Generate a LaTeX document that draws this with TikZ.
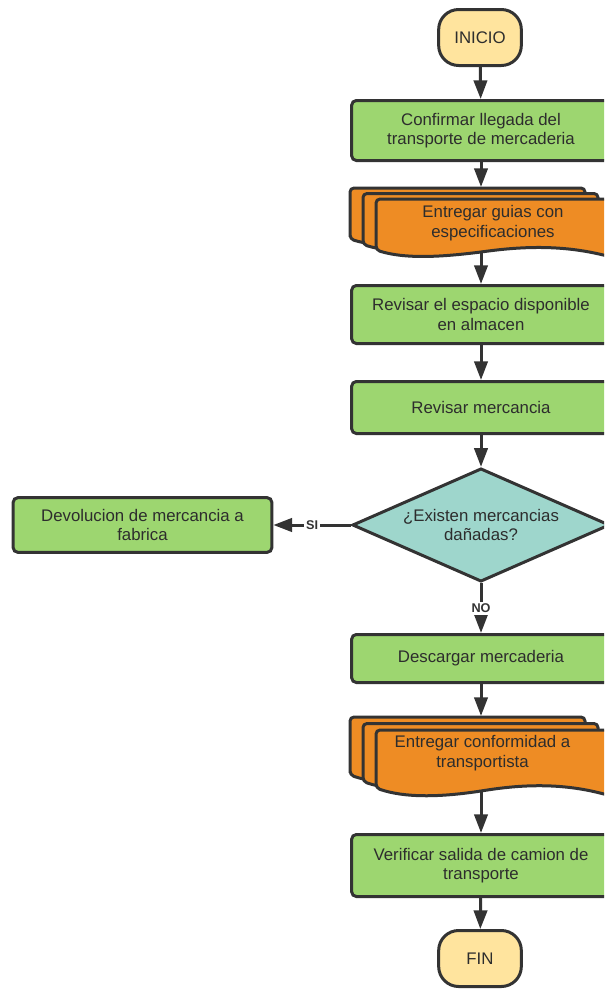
\documentclass[tikz,border=0pt]{standalone}
\usepackage{fontspec}
\setmainfont{Liberation Sans}
\usetikzlibrary{arrows.meta,shapes.geometric}

\definecolor{lineclr}{RGB}{51,51,51}
\definecolor{txtclr}{RGB}{45,45,45}
\definecolor{boxgreen}{RGB}{157,214,112}
\definecolor{docorange}{RGB}{238,140,36}
\definecolor{decteal}{RGB}{158,214,204}
\definecolor{termyellow}{RGB}{255,228,158}

\begin{document}
\begin{tikzpicture}[x=0.75pt,y=0.75pt,yscale=-1,xscale=1,
    proc/.style={draw=lineclr,line width=2.25pt,fill=boxgreen,rounded corners=3.5pt,minimum width=194pt,inner sep=2pt,align=center,text=txtclr,font=\fontsize{12.6}{14.6}\selectfont},
    term/.style={draw=lineclr,line width=2.25pt,fill=termyellow,rounded corners=15pt,minimum width=62pt,minimum height=42pt,text=txtclr,font=\fontsize{12.6}{14.6}\selectfont},
    dec/.style={diamond,aspect=2.26,draw=lineclr,line width=2.25pt,fill=decteal,inner sep=0pt,minimum width=193pt,minimum height=85pt,align=center,text=txtclr,font=\fontsize{12.6}{14.6}\selectfont},
    sheet/.style={draw=lineclr,line width=2.25pt,fill=docorange,rounded corners=3pt,line join=round},
    doctext/.style={align=center,inner sep=0pt,text=txtclr,font=\fontsize{12.6}{14.6}\selectfont},
    flow/.style={draw=lineclr,line width=2.25pt,-{Triangle[length=14pt,width=10pt]}},
    lbl/.style={fill=white,inner sep=1.5pt,text=lineclr,font=\bfseries\fontsize{9.5}{10}\selectfont}]
    \useasboundingbox (0,0) rectangle (604,989);
    \clip (0,0) rectangle (604,989);

    %Shape: Terminal
    \node[term] (inicio) at (480,37.5) {INICIO};
    %Shape: Rectangle
    \node[proc,minimum height=45pt] (b1) at (481,130.5) {Confirmar llegada del\\transporte de mercaderia};

    %Shape: Multi Document
    \foreach \dx/\dy in {-26/-11,-13/-5.5,0/0}
      \draw[sheet,shift={(\dx,\dy)}] (376,250) -- (376,199) -- (611,199) -- (611,257) .. controls (565,245) and (525,246) .. (481,252) .. controls (440,257) and (405,259) .. (376,250) -- cycle;
    \coordinate (doc1in) at (481,187);
    \coordinate (doc1out) at (481,252);
    % Text Node
    \node[doctext] (doc1) at (493,223) {Entregar guias con\\especificaciones};

    %Shape: Rectangle
    \node[proc,minimum height=43.5pt] (b2) at (481,314.5) {Revisar el espacio disponible\\en almacen};
    %Shape: Rectangle
    \node[proc,minimum height=39pt] (b3) at (481,407.5) {Revisar mercancia};
    %Shape: Diamond
    \node[dec] (d1) at (481,525) {¿Existen mercancias\\dañadas?};
    %Shape: Rectangle
    \node[proc,minimum height=41pt] (dev) at (142.5,525) {Devolucion de mercancia a\\fabrica};
    %Shape: Rectangle
    \node[proc,minimum height=36pt] (b4) at (481,658.5) {Descargar mercaderia};

    %Shape: Multi Document
    \foreach \dx/\dy in {-26/-13,-13/-6.5,0/0}
      \draw[sheet,shift={(\dx,\dy)}] (376,788) -- (376,730) -- (611,730) -- (611,796) .. controls (565,783) and (525,784) .. (481,791) .. controls (440,797) and (405,798) .. (376,788) -- cycle;
    \coordinate (doc2in) at (481,716);
    \coordinate (doc2out) at (481,791);
    % Text Node
    \node[doctext] (doc2) at (482.5,753) {Entregar conformidad a\\transportista};

    %Shape: Rectangle
    \node[proc,minimum height=46.5pt] (b5) at (481,865.5) {Verificar salida de camion de\\transporte};
    %Shape: Terminal
    \node[term] (fin) at (480,958.5) {FIN};

    %Straight Lines
    \draw[flow] (inicio) -- (b1);
    \draw[flow] (b1) -- (doc1in);
    \draw[flow] (doc1out) -- (b2);
    \draw[flow] (b2) -- (b3);
    \draw[flow] (b3) -- (d1);
    \draw[flow] (d1) -- node[lbl] {SI} (dev);
    \draw[flow] (d1) -- node[lbl] {NO} (b4);
    \draw[flow] (b4) -- (doc2in);
    \draw[flow] (doc2out) -- (b5);
    \draw[flow] (b5) -- (fin);
\end{tikzpicture}
\end{document}
